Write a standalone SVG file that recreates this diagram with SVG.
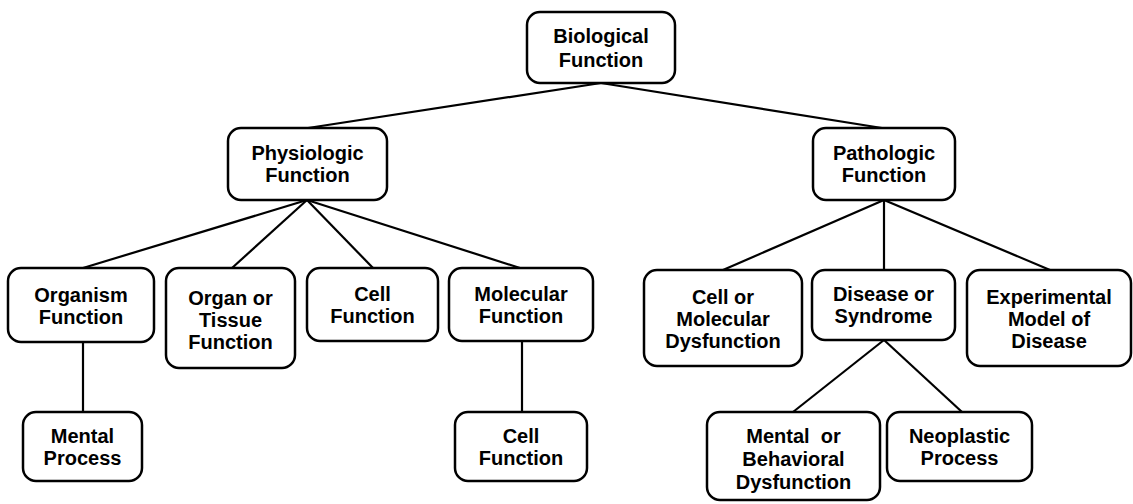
<svg xmlns="http://www.w3.org/2000/svg" width="1133" height="504" viewBox="0 0 1133 504">
  <style>
    .box { fill: #ffffff; stroke: #000000; stroke-width: 2.5; }
    .lbl { font-family: "Liberation Sans", Arial, sans-serif; font-weight: bold; font-size: 20px; fill: #000000; text-anchor: middle; }
    .edge { stroke: #000000; stroke-width: 2.2; fill: none; }
  </style>
  <rect width="1133" height="504" fill="#ffffff"/>

  <!-- connectors -->
  <g id="connectors">
    <line class="edge" x1="601" y1="83" x2="308" y2="128"/>
    <line class="edge" x1="601" y1="83" x2="882" y2="128"/>
    <line class="edge" x1="307" y1="200" x2="83" y2="268"/>
    <line class="edge" x1="307" y1="200" x2="232" y2="268"/>
    <line class="edge" x1="307" y1="200" x2="373" y2="268"/>
    <line class="edge" x1="307" y1="200" x2="520" y2="268"/>
    <line class="edge" x1="83" y1="342" x2="83" y2="412"/>
    <line class="edge" x1="522" y1="341" x2="522" y2="412"/>
    <line class="edge" x1="884" y1="200" x2="723" y2="270"/>
    <line class="edge" x1="884" y1="200" x2="884" y2="270"/>
    <line class="edge" x1="884" y1="200" x2="1050" y2="270"/>
    <line class="edge" x1="884" y1="340" x2="793" y2="412"/>
    <line class="edge" x1="884" y1="340" x2="962" y2="412"/>
  </g>

  <g id="biological-function">
    <rect class="box" x="527" y="12" width="148" height="71" rx="13"/>
    <text class="lbl" x="601" y="43">Biological</text>
    <text class="lbl" x="601" y="67">Function</text>
  </g>

  <g id="physiologic-function">
    <rect class="box" x="228" y="128" width="159" height="72" rx="13"/>
    <text class="lbl" x="307.5" y="160">Physiologic</text>
    <text class="lbl" x="307.5" y="182">Function</text>
  </g>

  <g id="pathologic-function">
    <rect class="box" x="813" y="128" width="142" height="72" rx="13"/>
    <text class="lbl" x="884" y="160">Pathologic</text>
    <text class="lbl" x="884" y="182">Function</text>
  </g>

  <g id="organism-function">
    <rect class="box" x="8" y="268" width="146" height="74" rx="13"/>
    <text class="lbl" x="81" y="302">Organism</text>
    <text class="lbl" x="81" y="324">Function</text>
  </g>

  <g id="organ-or-tissue-function">
    <rect class="box" x="166" y="268" width="129" height="100" rx="13"/>
    <text class="lbl" x="230.5" y="305">Organ or</text>
    <text class="lbl" x="230.5" y="327">Tissue</text>
    <text class="lbl" x="230.5" y="349">Function</text>
  </g>

  <g id="cell-function">
    <rect class="box" x="307" y="268" width="131" height="73" rx="13"/>
    <text class="lbl" x="372.5" y="301">Cell</text>
    <text class="lbl" x="372.5" y="323">Function</text>
  </g>

  <g id="molecular-function">
    <rect class="box" x="449" y="268" width="144" height="73" rx="13"/>
    <text class="lbl" x="521" y="301">Molecular</text>
    <text class="lbl" x="521" y="323">Function</text>
  </g>

  <g id="cell-or-molecular-dysfunction">
    <rect class="box" x="644" y="270" width="158" height="96" rx="13"/>
    <text class="lbl" x="723" y="304">Cell or</text>
    <text class="lbl" x="723" y="326">Molecular</text>
    <text class="lbl" x="723" y="348">Dysfunction</text>
  </g>

  <g id="disease-or-syndrome">
    <rect class="box" x="812" y="270" width="143" height="70" rx="13"/>
    <text class="lbl" x="883.5" y="301">Disease or</text>
    <text class="lbl" x="883.5" y="323">Syndrome</text>
  </g>

  <g id="experimental-model-of-disease">
    <rect class="box" x="967" y="270" width="164" height="96" rx="13"/>
    <text class="lbl" x="1049" y="304">Experimental</text>
    <text class="lbl" x="1049" y="326">Model of</text>
    <text class="lbl" x="1049" y="348">Disease</text>
  </g>

  <g id="mental-process">
    <rect class="box" x="23" y="412" width="119" height="69" rx="13"/>
    <text class="lbl" x="82.5" y="443">Mental</text>
    <text class="lbl" x="82.5" y="465">Process</text>
  </g>

  <g id="cell-function-2">
    <rect class="box" x="455" y="412" width="132" height="69" rx="13"/>
    <text class="lbl" x="521" y="443">Cell</text>
    <text class="lbl" x="521" y="465">Function</text>
  </g>

  <g id="mental-or-behavioral-dysfunction">
    <rect class="box" x="707" y="412" width="173" height="88" rx="13"/>
    <text class="lbl" x="793.5" y="443" style="white-space:pre">Mental  or</text>
    <text class="lbl" x="793.5" y="466">Behavioral</text>
    <text class="lbl" x="793.5" y="489">Dysfunction</text>
  </g>

  <g id="neoplastic-process">
    <rect class="box" x="887" y="412" width="145" height="69" rx="13"/>
    <text class="lbl" x="959.5" y="443">Neoplastic</text>
    <text class="lbl" x="959.5" y="465">Process</text>
  </g>
</svg>
